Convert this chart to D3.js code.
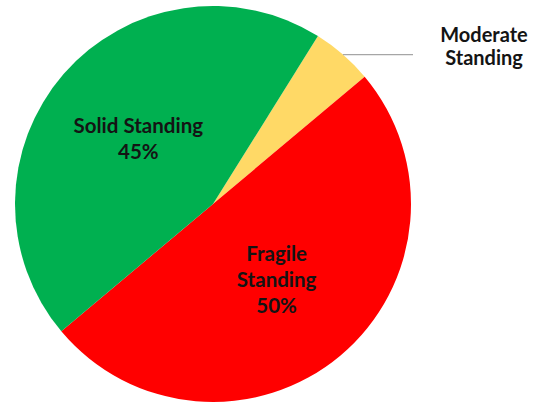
<!DOCTYPE html>
<html>
<head>
<meta charset="utf-8">
<script src="https://cdn.jsdelivr.net/npm/d3@7"></script>
<style>
  html, body { margin: 0; padding: 0; background: #ffffff; }
  svg { display: block; }
  text { font-family: Lato, "Open Sans", sans-serif; font-weight: bold; fill: #141414; }
</style>
</head>
<body>
<svg id="chart" width="539" height="404"></svg>
<script>
// Standing shares, in clockwise drawing order
const categories = ["Moderate Standing", "Fragile Standing", "Solid Standing"];
const shares = [5, 50, 45];
const showPercent = [false, true, true];
const sliceColors = ["#FFD966", "#FF0000", "#00B050"];

const svg = d3.select("#chart");
const cx = 213, cy = 204, radius = 198;

const g = svg.append("g").attr("transform", `translate(${cx},${cy})`);

const pie = d3.pie()
  .sort(null)
  .value(d => d.value)
  .startAngle(32 * Math.PI / 180)
  .endAngle(32 * Math.PI / 180 + 2 * Math.PI);

const data = categories.map((c, i) => ({ name: c, value: shares[i], pct: showPercent[i], color: sliceColors[i] }));
const arcs = pie(data);

const arc = d3.arc().innerRadius(0).outerRadius(radius);
const labelArc = d3.arc().innerRadius(99).outerRadius(99);

g.selectAll("path.slice")
  .data(arcs)
  .join("path")
  .attr("class", "slice")
  .attr("d", arc)
  .attr("fill", d => d.data.color);

const lineH = 26;
const total = d3.sum(shares);

// labels inside the large slices
arcs.filter(d => d.data.pct).forEach(d => {
  const [x, y] = labelArc.centroid(d);
  const words = d.data.name.split(" ");
  // wrap the name to fit the slice: short names stay on one line
  const lines = d.data.name.length > 15 ? [words[0], words.slice(1).join(" ")] : [d.data.name];
  lines.push(Math.round(d.data.value / total * 100) + "%");
  const t = g.append("text")
    .attr("text-anchor", "middle")
    .attr("font-size", 20.5)
    .attr("x", x)
    .attr("y", y - (lines.length - 1) * lineH / 2 + 7);
  lines.forEach((ln, i) => {
    t.append("tspan").attr("x", x).attr("dy", i === 0 ? 0 : lineH).text(ln);
  });
});

// outside label with leader line for the small slice
arcs.filter(d => !d.data.pct).forEach(d => {
  const mid = (d.startAngle + d.endAngle) / 2;
  const px = Math.sin(mid) * radius, py = -Math.cos(mid) * radius;
  g.append("line")
    .attr("x1", px).attr("y1", py)
    .attr("x2", 413 - cx).attr("y2", py)
    .attr("stroke", "#a6a6a6")
    .attr("stroke-width", 1.2);
  const words = d.data.name.split(" ");
  const t = g.append("text")
    .attr("text-anchor", "middle")
    .attr("font-size", 20)
    .attr("x", 484 - cx)
    .attr("y", py - 13);
  words.forEach((w, i) => {
    t.append("tspan").attr("x", 484 - cx).attr("dy", i === 0 ? 0 : 23).text(w);
  });
});
</script>
</body>
</html>
